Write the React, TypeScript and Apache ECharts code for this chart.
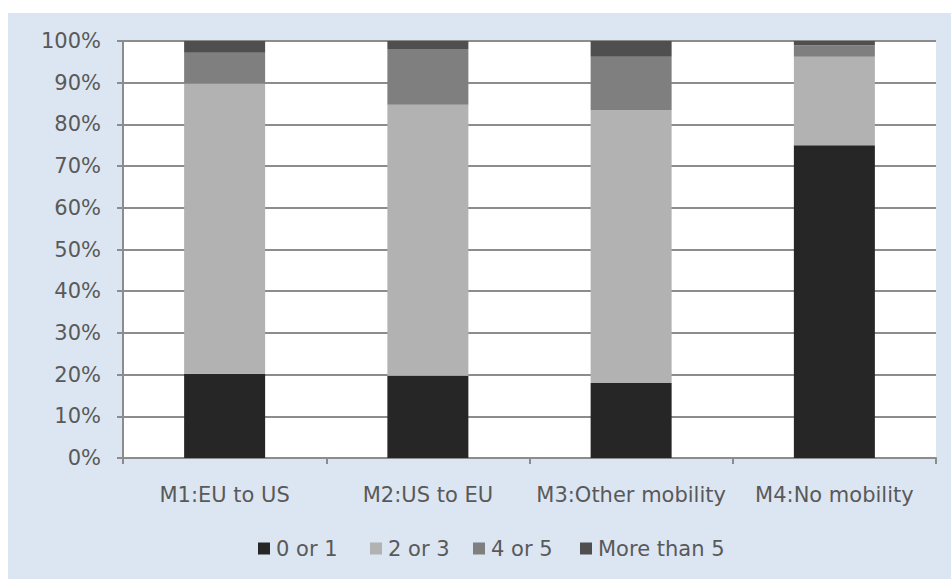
import React, { useEffect, useRef } from "react";
import * as echarts from "echarts";

const categories = ["M1:EU to US", "M2:US to EU", "M3:Other mobility", "M4:No mobility"];
const seriesNames = ["0 or 1", "2 or 3", "4 or 5", "More than 5"];
const share0or1 = [20.2, 19.7, 18.0, 75.0];
const share2or3 = [69.6, 65.0, 65.4, 21.2];
const share4or5 = [7.4, 13.4, 12.8, 2.8];
const shareMore5 = [2.8, 1.9, 3.8, 1.0];
const yTicks = [0, 10, 20, 30, 40, 50, 60, 70, 80, 90, 100];

const colors = ["#262626", "#b2b2b2", "#7f7f7f", "#4f4f4f"];
const legendLeft = [250, 362, 465, 572];

export default function App() {
  const ref = useRef<HTMLDivElement>(null);

  useEffect(() => {
    if (!ref.current) return;
    const chart = echarts.init(ref.current, null, { renderer: "svg" });
    const values = [share0or1, share2or3, share4or5, shareMore5];
    const font = "DejaVu Sans, Verdana, sans-serif";
    const textColor = "#595959";
    const lineColor = "#8c8c8c";
    const fontSize = 21;

    chart.setOption({
      animation: false,
      backgroundColor: "#dce6f2",
      textStyle: { fontFamily: font },
      grid: {
        left: 115,
        right: 15,
        top: 28,
        bottom: 121,
        show: true,
        backgroundColor: "#ffffff",
        borderWidth: 0,
      },
      legend: seriesNames.map((name, i) => ({
        data: [name],
        left: legendLeft[i],
        top: 525,
        padding: 0,
        itemWidth: 12,
        itemHeight: 12,
        itemGap: 0,
        icon: "rect",
        textStyle: { fontFamily: font, fontSize, color: textColor, padding: [0, 0, 0, 1] },
      })),
      xAxis: {
        type: "category",
        data: categories,
        axisLine: { show: true, lineStyle: { color: lineColor, width: 2 } },
        axisTick: { show: true, length: 6, lineStyle: { color: lineColor, width: 2 } },
        axisLabel: { fontFamily: font, fontSize, color: textColor, margin: 26, interval: 0 },
      },
      yAxis: {
        type: "value",
        min: yTicks[0],
        max: yTicks[yTicks.length - 1],
        interval: 10,
        axisLine: { show: true, lineStyle: { color: lineColor, width: 2 } },
        axisTick: { show: true, length: 6, lineStyle: { color: lineColor, width: 2 } },
        axisLabel: {
          fontFamily: font,
          fontSize,
          color: textColor,
          margin: 22,
          formatter: (v: number) => `${v}%`,
        },
        splitLine: { show: true, lineStyle: { color: lineColor, width: 2 } },
      },
      series: seriesNames.map((name, i) => ({
        name,
        type: "bar",
        stack: "total",
        barWidth: 81,
        data: values[i],
        itemStyle: { color: colors[i] },
      })),
    });

    return () => chart.dispose();
  }, []);

  return (
    <div style={{ position: "fixed", left: 8, top: 13, width: 943, height: 566 }}>
      <div ref={ref} style={{ width: 943, height: 566 }} />
    </div>
  );
}
